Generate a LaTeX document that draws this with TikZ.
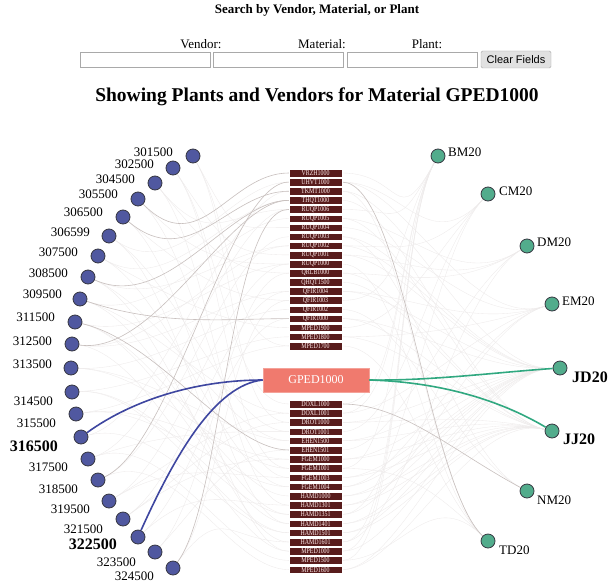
\documentclass[tikz,border=0pt]{standalone}
\usepackage{fontspec}
\setmainfont{Liberation Serif}
\newfontfamily\arialf{Liberation Sans}
\usetikzlibrary{calc}
\pgfdeclarelayer{back}
\pgfdeclarelayer{bg}
\pgfsetlayers{back,bg,main}
\definecolor{vblue}{RGB}{80,88,160}
\definecolor{pgreen}{RGB}{82,172,140}
\definecolor{matbox}{RGB}{88,28,28}
\definecolor{salmon}{RGB}{240,122,110}
\definecolor{hblue}{RGB}{62,70,160}
\definecolor{hgreen}{RGB}{48,168,128}
\definecolor{medgec}{RGB}{200,192,190}
\definecolor{fedgec}{RGB}{238,235,235}
\definecolor{ringc}{RGB}{55,55,65}
\definecolor{fieldc}{RGB}{169,169,169}
\definecolor{btnfill}{RGB}{225,225,225}
\definecolor{mattext}{RGB}{255,236,236}
\newcommand{\mtxt}[1]{\scalebox{0.8}[1]{#1}}
\begin{document}
\begin{tikzpicture}[x=1pt,y=-1pt,
  vend/.style={circle, draw=ringc, line width=0.8pt, fill=vblue, minimum size=14pt, inner sep=0pt},
  plant/.style={circle, draw=ringc, line width=0.8pt, fill=pgreen, minimum size=14pt, inner sep=0pt},
  lab/.style={inner sep=0pt, font=\fontsize{13}{13}\selectfont},
  blab/.style={inner sep=0pt, font=\fontsize{16}{16}\selectfont\bfseries},
  matnode/.style={draw=white, line width=0.4pt, fill=matbox, minimum width=53pt, minimum height=7.6pt, inner sep=0pt, text=mattext, font=\fontsize{7.4}{7.4}\selectfont},
  medge/.style={draw=medgec, line width=0.6pt},
  fedge/.style={draw=fedgec, line width=0.35pt},
  field/.style={draw=fieldc, fill=white, line width=0.8pt, minimum width=130pt, minimum height=15pt, inner sep=0pt},
  hdrlab/.style={inner sep=0pt, font=\fontsize{13}{13}\selectfont}
]
\begin{pgfonlayer}{back}
\fill[white] (0,0) rectangle (609,583);
\end{pgfonlayer}
\useasboundingbox (0,0) rectangle (609,583);
\coordinate (ctr) at (316,378);

% header
\node[inner sep=0pt, font=\fontsize{13}{13}\selectfont\bfseries] (hdr) at (317,10) {Search by Vendor, Material, or Plant};
\node[hdrlab] (lv) at (201,44) {Vendor:};
\node[hdrlab] (lm) at (322,44) {Material:};
\node[hdrlab] (lp) at (427,44) {Plant:};
\node[field] (f1) at (145,59.5) {};
\node[field] (f2) at (278.5,59.5) {};
\node[field] (f3) at (412,59.5) {};
\node[draw=fieldc, fill=btnfill, rounded corners=1.5pt, minimum width=70pt, minimum height=17pt, inner sep=0pt, font=\arialf\fontsize{11}{11}\selectfont] (btn) at (516,59.5) {Clear Fields};
\node[inner sep=0pt, font=\fontsize{19.5}{19.5}\selectfont\bfseries] (title) at (317,97) {Showing Plants and Vendors for Material GPED1000};

% materials
\foreach \t [count=\i] in {VRZH1000,UHVT1000,TKMT1000,THQT1000,RUQP1006,RUQP1005,RUQP1004,RUQP1003,RUQP1002,RUQP1001,RUQP1000,QRLB1000,QHQT1500,QFIR1004,QFIR1003,QFIR1002,QFIR1000,MPED1900,MPED1800,MPED1700}
  \node[matnode] (t\i) at (315.5,{173+9.1*(\i-1)}) {\mtxt{\t}};
\foreach \t [count=\i] in {DOXL1000,DOXL1001,DROT1000,DROT1001,EHEN1500,EHEN1501,FGEM1000,FGEM1001,FGEM1003,FGEM1004,HAMD1000,HAMD1301,HAMD1351,HAMD1401,HAMD1501,HAMD1601,MPED1000,MPED1500,MPED1600}
  \node[matnode] (b\i) at (315.5,{404+9.2*(\i-1)}) {\mtxt{\t}};

% center material
\node[fill=salmon, draw=salmon!70!white, line width=0.6pt, minimum width=106pt, minimum height=24pt, inner sep=0pt, text=white, font=\fontsize{12}{12}\selectfont] (g) at (316,380) {GPED1000};

% vendors
\foreach \n/\x/\y/\lx/\ly/\t in {1/193/156/173/152/301500, 2/173/168/154/164/302500, 3/155/183/135/179/304500, 4/138/199/118/194/305500, 5/123/217/103/212/306500, 6/109/236/90/232/306599, 7/98/256/78/252/307500, 8/88/277/68/273/308500, 9/80/299/62/294/309500, 10/75/322/55/317/311500, 11/72/344/52/341/312500, 12/71/368/52/364/313500, 13/72/392/53/401/314500, 14/76/414/56/423/315500, 16/88/459/68/467/317500, 17/98/480/78/489/318500, 18/109/501/90/509/319500, 19/123/519/103/529/321500, 21/155/552/136/562/323500, 22/173/568/154/576/324500}
{
  \node[vend] (v\n) at (\x,\y) {};
  \node[lab, anchor=east] (vl\n) at (\lx,\ly) {\t};
}
\foreach \n/\x/\y/\lx/\ly/\t in {15/81/437/58/446/316500, 20/138/537/117/544/322500}
{
  \node[vend] (v\n) at (\x,\y) {};
  \node[blab, anchor=east] (vl\n) at (\lx,\ly) {\t};
}

% plants
\foreach \n/\x/\y/\lx/\ly/\t in {1/438/156/448/152/BM20, 2/488/194/499/191/CM20, 3/527/246/537/242/DM20, 4/552/304/562/301/EM20, 7/527/491/537/500/NM20, 8/488/541/499/550/TD20}
{
  \node[plant] (p\n) at (\x,\y) {};
  \node[lab, anchor=west] (pl\n) at (\lx,\ly) {\t};
}
\foreach \n/\x/\y/\lx/\ly/\t in {5/560/368/572/377/JD20, 6/552/431/563/439/JJ20}
{
  \node[plant] (p\n) at (\x,\y) {};
  \node[blab, anchor=west] (pl\n) at (\lx,\ly) {\t};
}

\begin{pgfonlayer}{bg}
% faint vendor-material edges
\foreach \v/\m in {1/t7, 1/b3, 2/t10, 2/b8, 3/t12, 3/b12, 4/b9, 5/t15, 5/b14, 6/t2, 6/b4, 7/t18, 7/b10, 8/t9, 8/b16, 9/t6, 9/b2, 10/t11, 10/b11, 11/t14, 11/b17, 12/t16, 12/b5, 13/t19, 13/b13, 14/t20, 14/b7, 15/t3, 15/b15, 16/t5, 16/b18, 17/t8, 17/b19, 18/t11, 18/b9, 19/t14, 19/b3, 20/t17, 20/b12, 21/t12, 21/b6, 22/t15, 22/b16, 12/b8, 14/b10, 16/b4, 18/b2, 19/b7, 10/b14, 1/t20, 2/b1, 3/t5, 4/t11, 6/b17, 7/t4, 8/b5, 9/b13, 11/t9, 13/b15}
  \draw[fedge] (v\v) .. controls ($(v\v)!0.35!(ctr)$) and ($(\m.west)+(-60,0)$) .. (\m.west);
% faint material-plant edges
\foreach \m/\p in {t1/1, t2/2, t3/5, t4/6, t5/1, t6/3, t7/4, t8/7, t9/2, t10/5, t11/8, t12/3, t13/6, t14/4, t15/1, t16/7, t17/5, t18/2, t19/6, t20/8, b1/1, b2/4, b3/5, b4/2, b5/6, b6/3, b7/5, b8/1, b9/6, b10/4, b11/5, b12/6, b13/2, b14/5, b15/6, b16/3, b17/1, b18/8, b19/6, t3/8, t9/5, b10/5, b12/5, b14/6, b5/5, t17/6, b16/1, b18/1, b13/4, t19/4, t6/6, t8/5, t12/6, t14/5, b3/6, b7/6, b9/5, b11/6, b15/5, b17/5, b19/5, t2/4, t10/3, b2/1, b8/8}
  \draw[fedge] (\m.east) .. controls ($(\m.east)+(60,0)$) and ($(p\p)!0.35!(ctr)$) .. (p\p);
% medium edges
\foreach \v/\m in {4/t1, 5/t3, 11/t4, 8/t4, 9/t17, 10/b6, 22/t5, 17/t2}
  \draw[medge] (v\v) .. controls ($(v\v)!0.35!(ctr)$) and ($(\m.west)+(-60,0)$) .. (\m.west);
\foreach \m/\p in {b1/7, t2/8}
  \draw[medge] (\m.east) .. controls ($(\m.east)+(60,0)$) and ($(p\p)!0.35!(ctr)$) .. (p\p);
\end{pgfonlayer}

% highlighted edges
\draw[hblue, line width=1.6pt] (v15) .. controls (135,398) and (200,380) .. (g.west);
\draw[hblue, line width=1.6pt] (v20) .. controls (175,455) and (215,385) .. (g.west);
\draw[hgreen, line width=1.6pt] (g.east) .. controls (430,381) and (500,372) .. (p5);
\draw[hgreen, line width=1.6pt] (g.east) .. controls (440,382) and (500,400) .. (p6);
\end{tikzpicture}
\end{document}
